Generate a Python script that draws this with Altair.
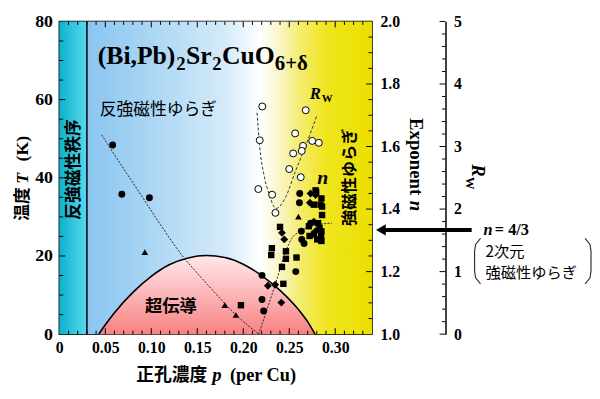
import altair as alt
import pandas as pd

SERIF = "Liberation Serif"
CJK = "Noto Sans CJK JP"

# ---------------- data ----------------
afm_order_edge_p = [0.03]

dome_p = [0.043, 0.050, 0.060, 0.080, 0.100, 0.120, 0.140, 0.160, 0.180, 0.200, 0.220, 0.240, 0.260, 0.270, 0.278]
dome_Tc = [0.0, 2.4, 5.5, 10.7, 14.8, 17.8, 19.5, 20.1, 19.6, 17.9, 15.0, 11.2, 6.3, 3.2, 0.0]

tstar_p = [0.046, 0.070, 0.090, 0.110, 0.134, 0.150, 0.170, 0.190, 0.217]
tstar_T = [51.0, 42.3, 35.2, 28.0, 20.0, 15.6, 10.4, 5.4, 0.0]

# filled symbols on the temperature axis
t_circle_p = [0.058, 0.068, 0.098]
t_circle_T = [48.4, 35.8, 34.9]
t_tri_p = [0.093, 0.180, 0.192]
t_tri_T = [21.0, 7.4, 4.9]
t_sq_p = [0.1975]
t_sq_T = [7.4]

# exponent n (right axis)
nline_p = [0.2168, 0.2347, 0.2464, 0.2536, 0.2632, 0.2714, 0.2964]
nline_v = [1.000, 1.158, 1.266, 1.310, 1.330, 1.345, 1.355]

n_circle_p = [0.2204, 0.2204, 0.2222, 0.2571, 0.2632, 0.2636, 0.2661, 0.2611, 0.2614, 0.2732]
n_circle_v = [1.188, 1.111, 1.074, 1.200, 1.329, 1.303, 1.290, 1.420, 1.450, 1.355]
n_sq_p = [0.2436, 0.2421, 0.2464, 0.2464, 0.2579, 0.2311, 0.2304, 0.2400, 0.2714, 0.2721, 0.2768, 0.2840,
          0.2857, 0.2814, 0.2829, 0.2850, 0.2768, 0.2846, 0.2804, 0.2850, 0.2793, 0.2786, 0.2850, 0.2857]
n_sq_v = [1.161, 1.215, 1.241, 1.265, 1.245, 1.275, 1.253, 1.343, 1.345, 1.314, 1.414, 1.414,
          1.381, 1.355, 1.340, 1.329, 1.319, 1.314, 1.303, 1.298, 1.455, 1.460, 1.434, 1.408]
n_dia_p = [0.2268, 0.2347, 0.2414, 0.2421, 0.2446, 0.2725, 0.2768, 0.2786, 0.2732, 0.2786]
n_dia_v = [1.155, 1.158, 1.101, 1.324, 1.303, 1.420, 1.360, 1.329, 1.450, 1.445]
n_tri_p = [0.2600]
n_tri_v = [1.376]

n_2d_ferro = [4 / 3]

# Rw (far right axis)
rwline_p = [0.2150, 0.2179, 0.2222, 0.2279, 0.2357, 0.2464, 0.2571, 0.2679, 0.2804]
rwline_v = [3.54, 2.99, 2.57, 2.25, 2.01, 2.20, 2.62, 3.01, 3.51]
rw_p = [0.2207, 0.2679, 0.2564, 0.2179, 0.2650, 0.2750, 0.2821, 0.2636, 0.2543, 0.2500, 0.2625, 0.2164, 0.2314, 0.2350]
rw_v = [3.64, 3.58, 3.21, 3.10, 3.01, 3.09, 3.06, 2.93, 2.89, 2.64, 2.51, 2.32, 2.23, 1.94]

# bracket decoration around the 2D note (in p / n units)
brL_p = [0.4580, 0.4526, 0.4515, 0.4515, 0.4526, 0.4580]
brR_p = [0.5717, 0.5770, 0.5781, 0.5781, 0.5770, 0.5717]
br_n = [1.306, 1.287, 1.265, 1.202, 1.180, 1.161]

# ticks
x_labels = [0.0, 0.05, 0.10, 0.15, 0.20, 0.25, 0.30]
x_major = [0.05, 0.10, 0.15, 0.20, 0.25, 0.30]
x_minor = [round(0.01 * i, 2) for i in range(1, 34) if i % 5 != 0]
T_labels = [0, 20, 40, 60, 80]
T_major = [20, 40, 60]
T_minor = [5, 10, 15, 25, 30, 35, 45, 50, 55, 65, 70, 75]
n_labels = [1.0, 1.2, 1.4, 1.6, 1.8, 2.0]
n_major = [1.2, 1.4, 1.6, 1.8]
n_minor = [1.05, 1.1, 1.15, 1.25, 1.3, 1.35, 1.45, 1.5, 1.55, 1.65, 1.7, 1.75, 1.85, 1.9, 1.95]
rw_labels = [0, 1, 2, 3, 4, 5]
rw_minor = [round(0.2 * i, 1) for i in range(1, 25) if i % 5 != 0]

W, H = 317, 317
RW_OFF = 74.5

# ---------------- scales / axes ----------------
xscale = alt.Scale(domain=[0, 0.34], nice=False, zero=False)
xaxis = alt.Axis(values=x_labels, labelExpr="datum.value == 0 ? '0' : format(datum.value, '.2f')",
                 ticks=False, domain=False, grid=False, labelPadding=6, labelFontSize=16,
                 labelFlush=False, labelOverlap=False, title=None)
tscale = alt.Scale(domain=[0, 80], nice=False, zero=False)
taxis = alt.Axis(values=T_labels, ticks=False, domain=False, grid=False, labelPadding=7,
                 labelFontSize=18, labelFlush=False, title=None)
nscale = alt.Scale(domain=[1, 2], nice=False, zero=False)
naxis = alt.Axis(orient="right", values=n_labels, format=".1f", ticks=False, domain=False, grid=False,
                 labelPadding=8, labelFontSize=16, labelFlush=False, title=None)
rwscale = alt.Scale(domain=[0, 5], nice=False, zero=False)
rwaxis = alt.Axis(orient="right", offset=RW_OFF, values=rw_labels, ticks=False, domain=True,
                  domainColor="black", domainWidth=1.5, grid=False, labelPadding=8,
                  labelFontSize=16, labelFlush=False, title=None)


def X(f):
    return alt.X(f, type="quantitative", scale=xscale, axis=xaxis)


def YT(f):
    return alt.Y(f, type="quantitative", scale=tscale, axis=taxis)


def YN(f):
    return alt.Y(f, type="quantitative", scale=nscale, axis=naxis)


def YR(f):
    return alt.Y(f, type="quantitative", scale=rwscale, axis=rwaxis)


def label(txt, x, y, size, font=SERIF, weight="bold", style="normal", angle=0,
          align="left", baseline="alphabetic"):
    return alt.Chart(pd.DataFrame({"t": [txt]})).mark_text(
        font=font, fontSize=size, fontWeight=weight, fontStyle=style, angle=angle,
        align=align, baseline=baseline, color="black"
    ).encode(x=alt.value(x), y=alt.value(y), text="t:N")


def pts(p, v, Y, shape, size):
    return alt.Chart(pd.DataFrame({"p": p, "v": v})).mark_point(
        shape=shape, filled=True, color="black", size=size, opacity=1
    ).encode(x=X("p"), y=Y("v"))


# ---------------- backgrounds ----------------
cyan_grad = alt.Gradient(gradient="linear", x1=0, x2=1, y1=0, y2=0, stops=[
    alt.GradientStop(color="#0cb2cc", offset=0), alt.GradientStop(color="#5ad8ee", offset=1)])
main_grad = alt.Gradient(gradient="linear", x1=0, x2=1, y1=0, y2=0, stops=[
    alt.GradientStop(color="#8ac5f0", offset=0),
    alt.GradientStop(color="#a9d5f4", offset=0.215),
    alt.GradientStop(color="#d6ebfa", offset=0.49),
    alt.GradientStop(color="#ffffff", offset=0.61),
    alt.GradientStop(color="#f9f5c4", offset=0.68),
    alt.GradientStop(color="#f4ec6c", offset=0.75),
    alt.GradientStop(color="#f0e51e", offset=0.84),
    alt.GradientStop(color="#ebdf00", offset=1.0)])
pink_grad = alt.Gradient(gradient="linear", x1=0, x2=0, y1=0, y2=1, stops=[
    alt.GradientStop(color="#ffe8ea", offset=0), alt.GradientStop(color="#f78282", offset=1)])

bg_cyan = alt.Chart(pd.DataFrame({"p0": [0.0], "p1": afm_order_edge_p, "a": [0], "b": [80]})).mark_rect(
    fill=cyan_grad).encode(x=X("p0"), x2="p1", y=YT("a"), y2="b")
bg_main = alt.Chart(pd.DataFrame({"p0": afm_order_edge_p, "p1": [0.34], "a": [0], "b": [80]})).mark_rect(
    fill=main_grad).encode(x=X("p0"), x2="p1", y=YT("a"), y2="b")

dome_df = pd.DataFrame({"p": dome_p, "T": dome_Tc})
dome_area = alt.Chart(dome_df).mark_area(fill=pink_grad, interpolate="monotone").encode(
    x=X("p"), y=YT("T"), y2=alt.datum(0))
dome_line = alt.Chart(dome_df).mark_line(color="black", strokeWidth=1.6, interpolate="monotone").encode(
    x=X("p"), y=YT("T"))
afm_line = alt.Chart(pd.DataFrame({"p": afm_order_edge_p})).mark_rule(color="black", strokeWidth=1.5).encode(
    x=X("p"), y=alt.value(0), y2=alt.value(H))
tstar_line = alt.Chart(pd.DataFrame({"p": tstar_p, "T": tstar_T})).mark_line(
    color="#222", strokeWidth=1, strokeDash=[2, 1.5], interpolate="monotone").encode(x=X("p"), y=YT("T"))


def xticks(vals, length):
    d = alt.Chart(pd.DataFrame({"p": vals}))
    return (d.mark_rule(color="black", strokeWidth=1).encode(x=X("p"), y=alt.value(H), y2=alt.value(H - length))
            + d.mark_rule(color="black", strokeWidth=1).encode(x=X("p"), y=alt.value(0), y2=alt.value(length)))


tticks_major = alt.Chart(pd.DataFrame({"T": T_major})).mark_rule(color="black").encode(
    y=YT("T"), x=alt.value(0), x2=alt.value(6))
tticks_minor = alt.Chart(pd.DataFrame({"T": T_minor})).mark_rule(color="black").encode(
    y=YT("T"), x=alt.value(0), x2=alt.value(4))

texts = [
    # compound formula
    label("(Bi,Pb)", 39, 43, 26),
    label("2", 118.5, 49, 19),
    label("Sr", 128.5, 43, 26),
    label("2", 155, 49, 19),
    label("CuO", 165, 43, 26),
    label("6+δ", 218.5, 49.5, 21),
    # region labels
    label("反強磁性ゆらぎ", 41, 90, 17, font=CJK, weight="normal", baseline="middle"),
    label("反強磁性秩序", 15, 150, 17, font=CJK, angle=270, align="center", baseline="middle"),
    label("強磁性ゆらぎ", 295, 158, 16.5, font=CJK, angle=270, align="center", baseline="middle"),
    label("超伝導", 113, 290, 17.5, font=CJK, align="center", baseline="middle"),
    label("R", 254, 79, 17, style="italic"),
    label("W", 266, 82, 11),
    label("n", 267, 159, 20, style="italic", align="center", baseline="middle"),
    # left axis title
    label("温度", -37, 185, 17, font=CJK, angle=270, align="center", baseline="middle"),
    label("T", -37, 159, 18, style="italic", angle=270, align="center", baseline="middle"),
    label("(K)", -37, 129, 18, angle=270, align="center", baseline="middle"),
    # x axis title
    label("正孔濃度", 78, 364, 18, font=CJK),
    label("p", 155, 364, 19, style="italic"),
    label("(per Cu)", 173, 364, 18.5),
    # right axis titles
    label("Exponent", 361, 137, 19, angle=90, align="center", baseline="middle"),
    label("n", 361, 187, 19, style="italic", angle=90, align="center", baseline="middle"),
    label("R", 424.5, 151, 19, style="italic", angle=90, align="center", baseline="middle"),
    label("W", 416.5, 164, 13, angle=90, align="center", baseline="middle"),
    # 2D note
    label("n", 430, 216, 16.5, style="italic"),
    label("= 4/3", 441.5, 216, 16.5),
    label("2次元", 432, 233.5, 15.5, font=CJK, weight="normal", baseline="middle"),
    label("強磁性ゆらぎ", 432, 255, 15.5, font=CJK, weight="normal", baseline="middle"),
]

base = alt.layer(
    bg_cyan, bg_main, dome_area, dome_line, afm_line, tstar_line,
    pts(t_circle_p, t_circle_T, YT, "circle", 49),
    pts(t_tri_p, t_tri_T, YT, "triangle-up", 45),
    pts(t_sq_p, t_sq_T, YT, "square", 42),
    xticks(x_major, 6), xticks(x_minor, 3.5), tticks_major, tticks_minor,
    *texts,
)

# ---------------- exponent n layer ----------------
nline = alt.Chart(pd.DataFrame({"p": nline_p, "v": nline_v})).mark_line(
    color="#222", strokeWidth=1, strokeDash=[2, 1.5], interpolate="monotone").encode(x=X("p"), y=YN("v"))
nticks_major = alt.Chart(pd.DataFrame({"v": n_major})).mark_rule(color="black").encode(
    y=YN("v"), x=alt.value(W - 6), x2=alt.value(W))
nticks_minor = alt.Chart(pd.DataFrame({"v": n_minor})).mark_rule(color="black").encode(
    y=YN("v"), x=alt.value(W - 3.5), x2=alt.value(W))
arrow_df = pd.DataFrame({"v": n_2d_ferro})
arrow_line = alt.Chart(arrow_df).mark_rule(color="black", strokeWidth=4).encode(
    y=YN("v"), x=alt.value(326), x2=alt.value(418))
arrow_head = alt.Chart(arrow_df).mark_point(shape="triangle-left", filled=True, color="black",
                                             size=130, opacity=1).encode(y=YN("v"), x=alt.value(326))
br_df = pd.DataFrame({"p": brL_p + brR_p, "v": br_n + br_n,
                      "side": ["L"] * len(brL_p) + ["R"] * len(brR_p),
                      "o": list(range(len(brL_p))) + list(range(len(brR_p)))})
brackets = alt.Chart(br_df).mark_line(color="#333", strokeWidth=1.2).encode(
    x=X("p"), y=YN("v"), detail="side:N", order="o:Q")

ngroup = alt.layer(
    nline,
    pts(n_circle_p, n_circle_v, YN, "circle", 49),
    pts(n_sq_p, n_sq_v, YN, "square", 42),
    pts(n_dia_p, n_dia_v, YN, "diamond", 64),
    pts(n_tri_p, n_tri_v, YN, "triangle-up", 45),
    nticks_major, nticks_minor, arrow_line, arrow_head, brackets,
)

# ---------------- Rw layer ----------------
rwline = alt.Chart(pd.DataFrame({"p": rwline_p, "v": rwline_v})).mark_line(
    color="#333", strokeWidth=1, strokeDash=[3, 2], interpolate="monotone").encode(x=X("p"), y=YR("v"))
rwpts = alt.Chart(pd.DataFrame({"p": rw_p, "v": rw_v})).mark_point(
    shape="circle", filled=True, fill="white", stroke="black", strokeWidth=1, size=50, opacity=1
).encode(x=X("p"), y=YR("v"))
rwticks_major = alt.Chart(pd.DataFrame({"v": rw_labels})).mark_rule(color="black").encode(
    y=YR("v"), x=alt.value(W + RW_OFF - 6), x2=alt.value(W + RW_OFF))
rwticks_minor = alt.Chart(pd.DataFrame({"v": rw_minor})).mark_rule(color="black").encode(
    y=YR("v"), x=alt.value(W + RW_OFF - 3.5), x2=alt.value(W + RW_OFF))

rwgroup = alt.layer(rwline, rwpts, rwticks_major, rwticks_minor)

chart = alt.layer(base, ngroup, rwgroup).resolve_scale(y="independent").properties(
    width=W, height=H,
    padding={"left": 52, "top": 11, "right": 223, "bottom": 55},
    autosize=alt.AutoSizeParams(type="none"),
).configure_view(stroke="black", strokeWidth=1.5).configure_axis(
    labelFont=SERIF, labelFontWeight="bold", labelColor="black"
)

chart.save("out.html", embed_options={"renderer": "svg", "actions": False})
